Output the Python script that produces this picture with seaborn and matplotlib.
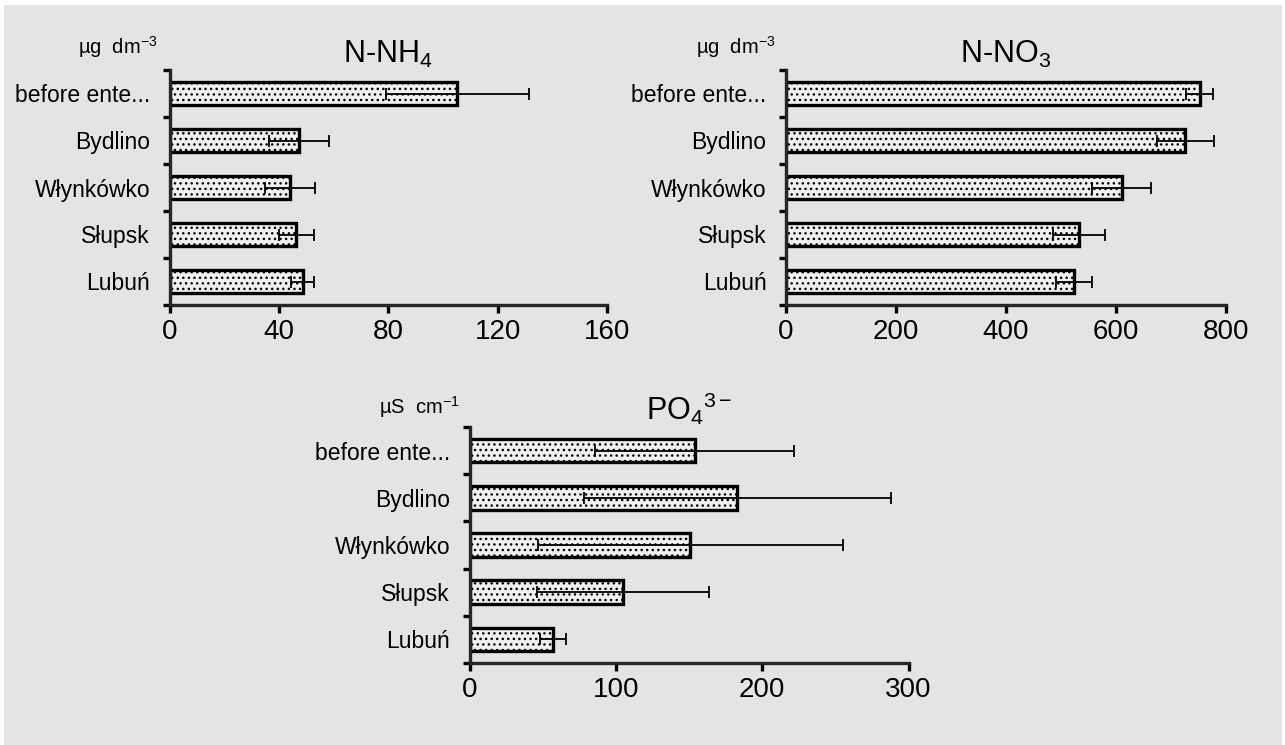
import matplotlib
matplotlib.use("Agg")
import matplotlib.pyplot as plt
import seaborn as sns
import pandas as pd
from matplotlib.patches import Rectangle

# Sampling sites along the river (top to bottom)
sites = ["before ente...", "Bydlino", "Włynkówko", "Słupsk", "Lubuń"]

# Ammonium nitrogen, mean and SD
nh4_mean = [105.3, 47.5, 44.1, 46.4, 48.7]
nh4_sd = [26.0, 11.0, 9.0, 6.5, 4.1]

# Nitrate nitrogen, mean and SD
no3_mean = [752, 726, 610, 533, 524]
no3_sd = [25, 52, 53, 47, 33]

# Phosphate, mean and SD
po4_mean = [154, 183, 151, 105, 57]
po4_sd = [68, 105, 104, 59, 9]

nh4_ticks = [0, 40, 80, 120, 160]
no3_ticks = [0, 200, 400, 600, 800]
po4_ticks = [0, 100, 200, 300]

sns.set_theme(style="ticks")
plt.rcParams.update({
    "font.family": ["Liberation Sans", "DejaVu Sans"],
    "mathtext.fontset": "custom",
    "mathtext.rm": "Liberation Sans",
    "mathtext.it": "Liberation Sans",
    "mathtext.bf": "Liberation Sans",
    "mathtext.default": "regular",
    "hatch.linewidth": 1.0,
    "hatch.color": "black",
})

W, H = 1285, 745
fig = plt.figure(figsize=(W / 100, H / 100), dpi=100, facecolor="white")
fig.patches.append(Rectangle((4 / W, 0), (W - 7) / W, (H - 5) / H,
                             transform=fig.transFigure, facecolor="#e4e4e4",
                             edgecolor="none", zorder=-10))


def add_px_axes(x0, x1, y0, y1):
    return fig.add_axes([x0 / W, 1 - y1 / H, (x1 - x0) / W, (y1 - y0) / H])


panels = [
    dict(box=(169.5, 607, 70, 305), mean=nh4_mean, sd=nh4_sd, ticks=nh4_ticks,
         title="N-NH$_4$", unit="µg  dm$^{-3}$", unit_xy=(158, 47)),
    dict(box=(786, 1226, 70, 305), mean=no3_mean, sd=no3_sd, ticks=no3_ticks,
         title="N-NO$_3$", unit="µg  dm$^{-3}$", unit_xy=(776, 47)),
    dict(box=(469.5, 908.5, 427, 663), mean=po4_mean, sd=po4_sd, ticks=po4_ticks,
         title="PO$_4$$^{3-}$", unit="µS  cm$^{-1}$", unit_xy=(460, 407)),
]

for p in panels:
    ax = add_px_axes(*p["box"])
    ax.set_facecolor("none")
    df = pd.DataFrame({"site": sites, "value": p["mean"]})
    sns.barplot(data=df, x="value", y="site", orient="h", ax=ax,
                color="#f0f0f0", saturation=1, errorbar=None, width=0.5,
                edgecolor="black", linewidth=2.4, hatch="...")
    ax.errorbar(p["mean"], range(len(sites)), xerr=p["sd"], fmt="none",
                ecolor="black", elinewidth=1.3, capsize=4.5, capthick=1.3,
                zorder=5)

    ax.set_xlim(p["ticks"][0], p["ticks"][-1])
    ax.set_ylim(len(sites) - 0.5, -0.5)
    ax.set_xticks(p["ticks"])
    ax.set_yticks(range(len(sites)))
    ax.set_yticklabels(sites)
    ax.set_yticks([i - 0.5 for i in range(len(sites) + 1)], minor=True)
    ax.set_xlabel("")
    ax.set_ylabel("")

    sns.despine(ax=ax)
    for side in ("left", "bottom"):
        ax.spines[side].set_linewidth(2.4)
        ax.spines[side].set_capstyle("projecting")

    ax.tick_params(axis="x", which="major", length=6, width=2.4,
                   labelsize=20, pad=4, colors="black")
    ax.tick_params(axis="y", which="major", length=0, labelsize=16.5, pad=14,
                   colors="black")
    ax.tick_params(axis="y", which="minor", length=5, width=2.4, colors="black")

    ax.set_title(p["title"], fontsize=22, pad=4, color="black")
    ux, uy = p["unit_xy"]
    fig.text(ux / W, 1 - uy / H, p["unit"], ha="right", va="center",
             fontsize=14.5, color="black")

fig.savefig("out.png", dpi=100, facecolor=fig.get_facecolor())
